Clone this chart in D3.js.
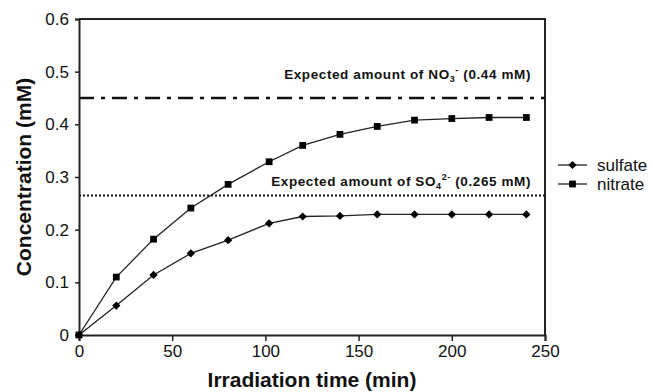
<!DOCTYPE html>
<html>
<head>
<meta charset="utf-8">
<script src="https://cdn.jsdelivr.net/npm/d3@7"></script>
<style>
  body { margin: 0; background: #fff; }
  text { font-family: "Liberation Sans", Arial, sans-serif; fill: #111; }
</style>
</head>
<body>
<div id="chart-area"></div>
<script>
// data
var times = [0, 20, 40, 60, 80, 102, 120, 140, 160, 180, 200, 220, 240];
var sulfate = [0, 0.056, 0.114, 0.155, 0.180, 0.212, 0.225, 0.226, 0.229, 0.229, 0.229, 0.229, 0.229];
var nitrate = [0, 0.110, 0.182, 0.241, 0.286, 0.329, 0.360, 0.381, 0.396, 0.408, 0.411, 0.413, 0.413];
var xTicks = [0, 50, 100, 150, 200, 250];
var yTicks = [0, 0.1, 0.2, 0.3, 0.4, 0.5, 0.6];
var expectedNO3 = 0.45;
var expectedSO4 = 0.265;

var margin = { left: 79, right: 108, top: 19, bottom: 57 };
var W = 653, H = 392;
var chartWidth = W - margin.left - margin.right;
var chartHeight = H - margin.top - margin.bottom;

var svg = d3.select("#chart-area")
    .append("svg")
        .attr("width", W)
        .attr("height", H);
var g = svg.append("g")
    .attr("transform", "translate(" + margin.left + ", " + margin.top + ")");

// Scales
var x = d3.scaleLinear().domain([0, 250]).range([0, chartWidth]);
var y = d3.scaleLinear().domain([0, 0.6]).range([chartHeight, 0]);

// frame (top and right)
g.append("path")
    .attr("d", "M0,0H" + chartWidth + "V" + chartHeight)
    .attr("fill", "none")
    .attr("stroke", "#222")
    .attr("stroke-width", 2);

// expected lines
g.append("line")
    .attr("x1", 0).attr("x2", chartWidth)
    .attr("y1", y(expectedNO3)).attr("y2", y(expectedNO3))
    .attr("stroke", "#111")
    .attr("stroke-width", 2.5)
    .attr("stroke-dasharray", "15,7,4,7");
g.append("line")
    .attr("x1", 0).attr("x2", chartWidth)
    .attr("y1", y(expectedSO4)).attr("y2", y(expectedSO4))
    .attr("stroke", "#111")
    .attr("stroke-width", 2)
    .attr("stroke-dasharray", "2,2");

// annotations
var a1 = g.append("text")
    .attr("x", chartWidth - 14)
    .attr("y", y(expectedNO3) - 19)
    .attr("text-anchor", "end")
    .attr("font-size", "13.5px")
    .attr("letter-spacing", "0.6px")
    .attr("font-weight", "bold");
a1.append("tspan").text("Expected amount of NO");
a1.append("tspan").attr("font-size", "9px").attr("dy", 3).text("3");
a1.append("tspan").attr("font-size", "9px").attr("dy", -9).text("-");
a1.append("tspan").attr("dy", 6).text(" (0.44 mM)");

var a2 = g.append("text")
    .attr("x", chartWidth - 14)
    .attr("y", y(expectedSO4) - 9)
    .attr("text-anchor", "end")
    .attr("font-size", "13.5px")
    .attr("letter-spacing", "0.6px")
    .attr("font-weight", "bold");
a2.append("tspan").text("Expected amount of SO");
a2.append("tspan").attr("font-size", "9px").attr("dy", 3).text("4");
a2.append("tspan").attr("font-size", "9px").attr("dy", -9).text("2-");
a2.append("tspan").attr("dy", 6).text(" (0.265 mM)");

// Axes
var xAxisCall = d3.axisBottom(x).tickValues(xTicks).tickSizeOuter(0).tickSize(6).tickPadding(4);
var xAxis = g.append("g")
    .attr("transform", "translate(0, " + chartHeight + ")")
    .call(xAxisCall);
var yAxisCall = d3.axisLeft(y).tickValues(yTicks).tickSizeOuter(0).tickSize(4).tickPadding(6)
    .tickFormat(function(d) { return d === 0 ? "0" : d3.format(".1f")(d); });
var yAxis = g.append("g").call(yAxisCall);

[xAxis, yAxis].forEach(function(ax) {
    ax.select(".domain").attr("stroke", "#222").attr("stroke-width", 2);
    ax.selectAll(".tick line").attr("stroke", "#222").attr("stroke-width", 1.5);
    ax.selectAll(".tick text")
        .attr("font-family", "Liberation Sans, Arial, sans-serif")
        .attr("font-size", "17px")
        .attr("fill", "#111");
});

// Axis labels
g.append("text")
    .attr("x", chartWidth / 2)
    .attr("y", chartHeight + 52)
    .attr("text-anchor", "middle")
    .attr("font-size", "21px")
    .attr("font-weight", "bold")
    .text("Irradiation time (min)");
g.append("text")
    .attr("transform", "rotate(-90)")
    .attr("x", -chartHeight / 2)
    .attr("y", -48)
    .attr("text-anchor", "middle")
    .attr("font-size", "21px")
    .attr("font-weight", "bold")
    .text("Concentration (mM)");

// series
// diamond = square turned 45 degrees
var diamond = d3.symbol().type(d3.symbolSquare).size(34);
var square = d3.symbol().type(d3.symbolSquare).size(46);
var series = [
    { name: "sulfate", values: sulfate, shape: diamond, rot: 45 },
    { name: "nitrate", values: nitrate, shape: square, rot: 0 }
];

var line = d3.line()
    .x(function(d) { return x(d[0]); })
    .y(function(d) { return y(d[1]); });

series.forEach(function(s) {
    var pts = times.map(function(t, i) { return [t, s.values[i]]; });
    g.append("path")
        .datum(pts)
        .attr("d", line)
        .attr("fill", "none")
        .attr("stroke", "#222")
        .attr("stroke-width", 1.3);
    g.selectAll(".pt-" + s.name)
        .data(pts)
        .enter()
        .append("path")
        .attr("class", "pt-" + s.name)
        .attr("transform", function(d) {
            return "translate(" + x(d[0]) + "," + y(d[1]) + ") rotate(" + s.rot + ")";
        })
        .attr("d", s.shape)
        .attr("fill", "#000");
});

// Legend
var legend = svg.append("g")
    .attr("transform", "translate(558, 165)");
series.forEach(function(s, i) {
    var row = legend.append("g").attr("transform", "translate(0," + (i * 19) + ")");
    row.append("line")
        .attr("x1", 0).attr("x2", 29)
        .attr("stroke", "#222").attr("stroke-width", 1.3);
    row.append("path")
        .attr("transform", "translate(14.5,0) rotate(" + s.rot + ")")
        .attr("d", s.shape)
        .attr("fill", "#000");
    row.append("text")
        .attr("x", 39)
        .attr("y", 6)
        .attr("font-size", "17px")
        .text(s.name);
});
</script>
</body>
</html>
